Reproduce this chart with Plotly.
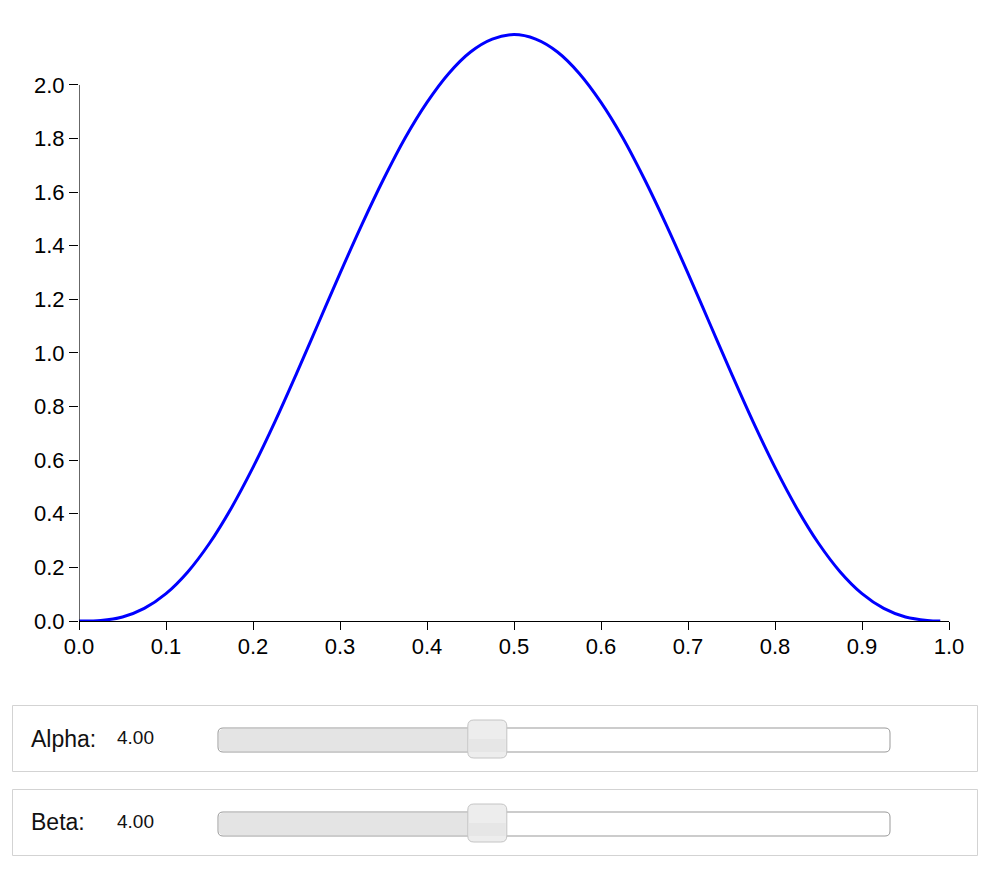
import plotly.graph_objects as go

# ---- data ----
x_vals = [0.000, 0.025, 0.050, 0.075, 0.100, 0.125, 0.150, 0.175, 0.200, 0.225,
          0.250, 0.275, 0.300, 0.325, 0.350, 0.375, 0.400, 0.425, 0.450, 0.475,
          0.500, 0.525, 0.550, 0.575, 0.600, 0.625, 0.650, 0.675, 0.700, 0.725,
          0.750, 0.775, 0.800, 0.825, 0.850, 0.875, 0.900, 0.925, 0.950, 0.975, 0.990]
density = [0.000, 0.002, 0.015, 0.047, 0.102, 0.183, 0.290, 0.421, 0.573, 0.742,
           0.923, 1.110, 1.297, 1.478, 1.648, 1.803, 1.935, 2.043, 2.123, 2.171,
           2.188, 2.171, 2.123, 2.043, 1.935, 1.803, 1.648, 1.478, 1.297, 1.110,
           0.923, 0.742, 0.573, 0.421, 0.290, 0.183, 0.102, 0.047, 0.015, 0.002, 0.000]
x_ticks = [0.0, 0.1, 0.2, 0.3, 0.4, 0.5, 0.6, 0.7, 0.8, 0.9, 1.0]
x_tick_labels = ["0.0", "0.1", "0.2", "0.3", "0.4", "0.5", "0.6", "0.7", "0.8", "0.9", "1.0"]
y_ticks = [0.0, 0.2, 0.4, 0.6, 0.8, 1.0, 1.2, 1.4, 1.6, 1.8, 2.0]
y_tick_labels = ["0.0", "0.2", "0.4", "0.6", "0.8", "1.0", "1.2", "1.4", "1.6", "1.8", "2.0"]
slider_names = ["Alpha:", "Beta:"]
slider_values = [4.0, 4.0]
slider_min = 0.0
slider_max = 10.0

# ---- layout geometry (page pixels; the page body adds an 8px margin) ----
OFF = 8
W, H = 1000 - OFF, 869 - OFF
PL, PR, PT, PB = 79, 949, 30, 621   # plot area in page pixels
FONT = "Liberation Sans, Arial, Helvetica, sans-serif"


def px(x):
    return (x - PL) / (PR - PL)


def py(y):
    return (PB - y) / (PB - PT)


def rrect_path(x0, y0, x1, y1, r, left=True, right=True):
    rx = r / (PR - PL)
    ry = r / (PB - PT)
    X0, X1 = px(x0), px(x1)
    Y0, Y1 = py(y0), py(y1)  # Y0 top, Y1 bottom
    p = [f"M {X0 + rx},{Y0}" if left else f"M {X0},{Y0}"]
    if right:
        p.append(f"L {X1 - rx},{Y0} Q {X1},{Y0} {X1},{Y0 - ry} L {X1},{Y1 + ry} Q {X1},{Y1} {X1 - rx},{Y1}")
    else:
        p.append(f"L {X1},{Y0} L {X1},{Y1}")
    if left:
        p.append(f"L {X0 + rx},{Y1} Q {X0},{Y1} {X0},{Y1 + ry} L {X0},{Y0 - ry} Q {X0},{Y0} {X0 + rx},{Y0} Z")
    else:
        p.append(f"L {X0},{Y1} Z")
    return " ".join(p)


fig = go.Figure()
fig.add_trace(go.Scatter(x=x_vals, y=density, mode="lines",
                         line=dict(color="#0000ff", width=3, shape="spline"),
                         hoverinfo="skip", showlegend=False))

shapes = []
# y axis line only up to the last tick
shapes.append(dict(type="line", xref="x", yref="y", x0=0, x1=0, y0=y_ticks[0], y1=y_ticks[-1],
                   line=dict(color="black", width=1.2), layer="above"))

annotations = []
track_x0, track_x1 = 218, 890
box_top0 = 705.5
for i, (name, val) in enumerate(zip(slider_names, slider_values)):
    off = i * 84
    bt, bb = box_top0 + off, box_top0 + 66 + off
    shapes.append(dict(type="rect", xref="paper", yref="paper",
                       x0=px(12.5), x1=px(977.5), y0=py(bb), y1=py(bt),
                       line=dict(color="#d3d3d3", width=1), fillcolor="white"))
    tt, tb = 728 + off, 752 + off
    frac = (val - slider_min) / (slider_max - slider_min)
    cx = track_x0 + frac * (track_x1 - track_x0) + 0.5
    shapes.append(dict(type="path", xref="paper", yref="paper",
                       path=rrect_path(track_x0, tt, track_x1, tb, 5),
                       line=dict(color="#999999", width=1), fillcolor="white"))
    shapes.append(dict(type="path", xref="paper", yref="paper",
                       path=rrect_path(track_x0 + 1, tt + 1, cx, tb - 1, 4, right=False),
                       line=dict(width=0), fillcolor="#e4e4e4"))
    hx0, hx1 = cx - 19.5, cx + 19.5
    ht, hb = 720 + off, 758 + off
    shapes.append(dict(type="path", xref="paper", yref="paper",
                       path=rrect_path(hx0, ht, hx1, hb, 6),
                       line=dict(color="#c4c4c4", width=1), fillcolor="#ededed"))
    shapes.append(dict(type="rect", xref="paper", yref="paper",
                       x0=px(hx0 + 1), x1=px(hx1 - 1), y0=py(hb - 6), y1=py((ht + hb) / 2),
                       line=dict(width=0), fillcolor="#e6e6e6"))
    cy = (bt + bb) / 2
    annotations.append(dict(text=name, xref="paper", yref="paper", x=px(29), y=py(cy),
                            xanchor="left", yanchor="middle", showarrow=False,
                            font=dict(family=FONT, size=23, color="#111111")))
    annotations.append(dict(text=f"{val:.2f}", xref="paper", yref="paper", x=px(115), y=py(cy - 1),
                            xanchor="left", yanchor="middle", showarrow=False,
                            font=dict(family=FONT, size=19, color="#111111")))

fig.update_layout(
    width=W, height=H,
    margin=dict(l=PL - OFF, r=1000 - PR, t=PT - OFF, b=869 - PB, pad=0),
    paper_bgcolor="white", plot_bgcolor="white",
    font=dict(family=FONT, size=22, color="black"),
    shapes=shapes, annotations=annotations,
    xaxis=dict(range=[0, 1], tickmode="array", tickvals=x_ticks, ticktext=x_tick_labels,
               showgrid=False, zeroline=False, showline=True, linecolor="black", linewidth=1.2,
               ticks="outside", ticklen=8, tickwidth=1.2, tickcolor="black", ticklabelstandoff=-3,
               tickfont=dict(family=FONT, size=22, color="black"), fixedrange=True),
    yaxis=dict(range=[0, 2.205], tickmode="array", tickvals=y_ticks, ticktext=y_tick_labels,
               showgrid=False, zeroline=False, showline=False,
               ticks="outside", ticklen=9, tickwidth=1.2, tickcolor="black",
               tickfont=dict(family=FONT, size=22, color="black"), fixedrange=True),
)

fig.write_html("out.html")
